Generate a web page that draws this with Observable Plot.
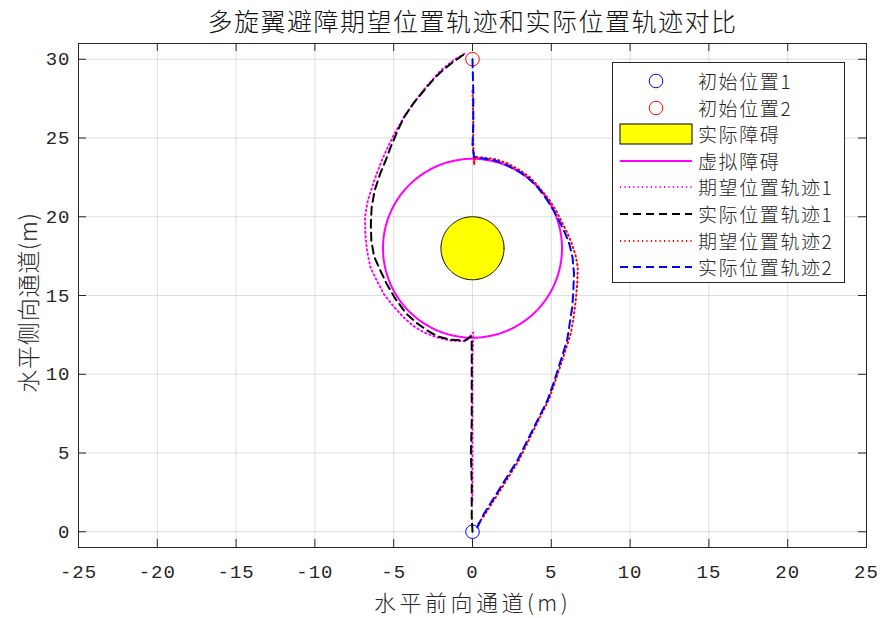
<!DOCTYPE html>
<html><head><meta charset="utf-8">
<script src="https://cdn.jsdelivr.net/npm/d3@7"></script>
<script src="https://cdn.jsdelivr.net/npm/@observablehq/plot@0.6"></script>
<style>
body{margin:0;background:#fff;}
#wrap{position:relative;width:883px;height:618px;overflow:hidden;}
#legend{position:absolute;left:612px;top:62px;width:233px;height:221px;border:1px solid #262626;background:#fff;box-sizing:border-box;}
#legend .row{position:absolute;left:0;height:26px;width:100%;}
#legend svg{position:absolute;left:6px;top:0;}
#legend span{position:absolute;left:85px;top:0;line-height:26px;font-family:"Noto Sans CJK SC",sans-serif;font-weight:300;font-size:19px;letter-spacing:1.6px;color:#262626;white-space:nowrap;}
</style></head><body><div id="wrap"></div>
<script>
// ---- data ----
const xTicks = [-25, -20, -15, -10, -5, 0, 5, 10, 15, 20, 25];
const yTicks = [0, 5, 10, 15, 20, 25, 30];
const titleText = "多旋翼避障期望位置轨迹和实际位置轨迹对比";
const xLabel = "水平前向通道(m)";
const yLabel = "水平侧向通道(m)";
const seriesNames = ["初始位置1", "初始位置2", "实际障碍", "虚拟障碍", "期望位置轨迹1", "实际位置轨迹1", "期望位置轨迹2", "实际位置轨迹2"];
const startPoint1 = [0, 0];
const startPoint2 = [0, 30];
const obstacleCenter = [0, 18];
const realObstacleRadius = 2;
const virtualObstacleRadius = 5.68;

const desired1 = [[0,2],[0,5],[0,8],[0,11],[0.05,12.65],[-0.4,12.1],[-1.4,12.14],[-2.3,12.35],[-3.1,12.67],[-3.8,13.1],[-4.36,13.6],[-5.0,14.3],[-5.63,15.1],[-6.1,16.0],[-6.48,16.8],[-6.7,17.9],[-6.8,18.9],[-6.82,20.0],[-6.65,21.0],[-6.2,22.4],[-5.75,23.6],[-5.05,25.1],[-4.3,26.4],[-3.6,27.4],[-2.9,28.3],[-2.0,29.3],[-1.2,29.95],[-0.5,30.35]];
const actual1 = [[0,0],[-0.05,1],[-0.05,3],[-0.1,5],[-0.05,7],[-0.05,9],[-0.05,11],[-0.05,12.0],[-0.1,12.4],[-0.5,12.14],[-1.4,12.2],[-2.2,12.4],[-2.9,12.8],[-3.6,13.3],[-4.2,13.85],[-4.9,14.8],[-5.45,15.75],[-5.9,16.7],[-6.25,17.5],[-6.42,18.5],[-6.45,19.5],[-6.4,20.6],[-6.2,21.7],[-5.85,22.75],[-5.5,23.6],[-5.2,24.4],[-4.8,25.35],[-4.36,26.3],[-3.75,27.2],[-3.09,28.0],[-2.5,28.7],[-2.0,29.2],[-1.2,29.85],[-0.55,30.3]];
const desired2 = [[0,28.0],[0.05,26],[0.05,24.5],[0.1,23.3],[0.15,23.8],[0.7,23.75],[1.5,23.65],[2.3,23.35],[3.0,22.95],[3.6,22.55],[4.2,21.9],[4.85,21.1],[5.3,20.4],[5.7,19.6],[6.05,18.9],[6.3,18.3],[6.55,17.5],[6.68,16.8],[6.65,15.8],[6.55,14.69],[6.4,13.5],[6.23,12.57],[5.76,11.08],[5.3,9.7],[4.85,8.4],[4.0,6.7],[2.95,4.55],[1.9,2.85],[0.85,1.2],[0.3,0.4]];
const actual2 = [[0,30],[0.05,28],[0.05,26],[0,24.5],[0.1,23.8],[0.7,23.7],[1.5,23.55],[2.2,23.27],[2.9,22.9],[3.47,22.52],[4.15,21.85],[4.75,21.04],[5.2,20.3],[5.59,19.56],[5.9,18.9],[6.15,18.25],[6.35,17.4],[6.44,16.38],[6.4,15.3],[6.33,14.26],[6.15,13.1],[6.0,12.14],[5.6,10.87],[5.2,9.6],[4.75,8.33],[3.9,6.63],[2.84,4.51],[1.78,2.82],[0.72,1.13],[0.3,0.27]];

// ---- styles ----
const C = {start1:"#0000ff", start2:"#ff0000", real:"#ffff00", virt:"#ff00ff", des1:"#ff00ff", act1:"#000000", des2:"#ff0000", act2:"#0000ff"};
const DOT = "1.2,3.2", DASH = "8,5";

const circle = (c, r) => d3.range(0, 361, 2).map(a => [c[0] + r * Math.cos(a * Math.PI / 180), c[1] + r * Math.sin(a * Math.PI / 180)]);

const W = 883, H = 618, ML = 78, MR = 17, MT = 43, MB = 71;
const PW = W - ML - MR, PH = H - MT - MB;
const TICK = 8;
const fx = d => d[0], fy = d => d[1];

const chart = Plot.plot({
  width: W, height: H,
  marginLeft: ML, marginRight: MR, marginTop: MT, marginBottom: MB,
  x: {domain: [-25, 25]},
  y: {domain: [-1, 31]},
  style: {background: "white", fontFamily: "Liberation Mono, monospace", color: "#262626"},
  marks: [
    Plot.gridX(xTicks, {stroke: "#262626", strokeOpacity: 0.15}),
    Plot.gridY(yTicks, {stroke: "#262626", strokeOpacity: 0.15}),
    Plot.dot([startPoint1], {x: fx, y: fy, r: 6.8, stroke: C.start1, fill: "none", strokeWidth: 1}),
    Plot.dot([startPoint2], {x: fx, y: fy, r: 6.8, stroke: C.start2, fill: "none", strokeWidth: 1}),
    Plot.line(circle(obstacleCenter, realObstacleRadius), {x: fx, y: fy, fill: C.real, stroke: "#000", strokeWidth: 1}),
    Plot.line(circle(obstacleCenter, virtualObstacleRadius), {x: fx, y: fy, stroke: C.virt, strokeWidth: 2}),
    Plot.line(desired1, {x: fx, y: fy, stroke: C.des1, strokeWidth: 2, strokeDasharray: DOT}),
    Plot.line(actual1, {x: fx, y: fy, stroke: C.act1, strokeWidth: 2, strokeDasharray: DASH}),
    Plot.line(desired2, {x: fx, y: fy, stroke: C.des2, strokeWidth: 2, strokeDasharray: DOT}),
    Plot.line(actual2, {x: fx, y: fy, stroke: C.act2, strokeWidth: 2, strokeDasharray: DASH}),
    Plot.tickX(xTicks, {x: d => d, insetTop: PH - TICK, stroke: "#262626"}),
    Plot.tickX(xTicks, {x: d => d, insetBottom: PH - TICK, stroke: "#262626"}),
    Plot.tickY(yTicks, {y: d => d, insetRight: PW - TICK, stroke: "#262626"}),
    Plot.tickY(yTicks, {y: d => d, insetLeft: PW - TICK, stroke: "#262626"}),
    Plot.axisX(xTicks, {tickSize: 0, tickPadding: 17, fontSize: 19, tickFormat: d => String(d), label: null, fill: "#262626"}),
    Plot.axisY(yTicks, {tickSize: 0, tickPadding: 8, fontSize: 19, tickFormat: d => String(d), label: null, fill: "#262626"}),
    Plot.frame({stroke: "#262626"}),
    Plot.text([titleText], {frameAnchor: "top", lineAnchor: "middle", textAnchor: "middle", dy: -21, fontSize: 25, fontWeight: 300, fontFamily: "Noto Sans CJK SC", fill: "#111"}),
    Plot.text([xLabel], {frameAnchor: "bottom", lineAnchor: "middle", textAnchor: "middle", dy: 56, fontSize: 22, fontWeight: 300, fontFamily: "Noto Sans CJK SC", fill: "#262626"}),
    Plot.text([yLabel], {frameAnchor: "left", lineAnchor: "middle", textAnchor: "middle", dx: -49, dy: 7, rotate: -90, fontSize: 23, fontWeight: 300, fontFamily: "Noto Sans CJK SC", fill: "#262626"})
  ]
});
// letter spacing (not a Plot text option) applied to the rendered labels
const spacing = new Map([[titleText, 1.5], [xLabel, 3.5], [yLabel, 0.8]]);
chart.querySelectorAll("text").forEach(t => {
  if (spacing.has(t.textContent)) t.setAttribute("letter-spacing", spacing.get(t.textContent));
});
chart.querySelectorAll('g[aria-label="x-axis tick label"] text, g[aria-label="y-axis tick label"] text')
  .forEach(t => t.setAttribute("letter-spacing", 1));
document.getElementById("wrap").appendChild(chart);

// ---- legend ----
const legend = document.createElement("div");
legend.id = "legend";
const swatch = [
  `<circle cx="37" cy="13" r="6.8" fill="none" stroke="${C.start1}"/>`,
  `<circle cx="37" cy="13" r="6.8" fill="none" stroke="${C.start2}"/>`,
  `<rect x="1" y="3" width="72" height="20" fill="${C.real}" stroke="#000"/>`,
  `<line x1="1" x2="73" y1="13" y2="13" stroke="${C.virt}" stroke-width="2"/>`,
  `<line x1="1" x2="73" y1="13" y2="13" stroke="${C.des1}" stroke-width="2" stroke-dasharray="${DOT}"/>`,
  `<line x1="1" x2="73" y1="13" y2="13" stroke="${C.act1}" stroke-width="2" stroke-dasharray="${DASH}"/>`,
  `<line x1="1" x2="73" y1="13" y2="13" stroke="${C.des2}" stroke-width="2" stroke-dasharray="${DOT}"/>`,
  `<line x1="1" x2="73" y1="13" y2="13" stroke="${C.act2}" stroke-width="2" stroke-dasharray="${DASH}"/>`
];
seriesNames.forEach((name, i) => {
  const row = document.createElement("div");
  row.className = "row";
  row.style.top = (5 + i * 26.6) + "px";
  row.innerHTML = `<svg width="75" height="26">${swatch[i]}</svg><span>${name}</span>`;
  legend.appendChild(row);
});
document.getElementById("wrap").appendChild(legend);
</script>
</body></html>
